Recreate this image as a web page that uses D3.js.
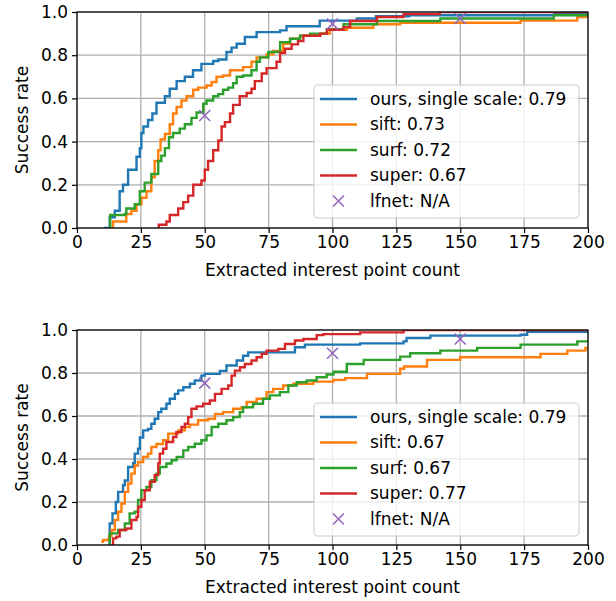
<!DOCTYPE html>
<html lang="en">
<head>
<meta charset="UTF-8">
<script src="https://cdnjs.cloudflare.com/ajax/libs/d3/7.8.5/d3.min.js"></script>
<style>
  body { margin: 0; background: #fff; }
  svg text { font-family: "DejaVu Sans", sans-serif; fill: #000; }
</style>
</head>
<body>
<div id="container"></div>
<script>
// ---------- data ----------
const xTicks = [0, 25, 50, 75, 100, 125, 150, 175, 200];
const yTicks = [0, 0.2, 0.4, 0.6, 0.8, 1.0];
const seriesNames = ["ours, single scale", "sift", "surf", "super"];
const colors = ["#1f77b4", "#ff7f0e", "#2ca02c", "#d62728"];
const lfnetColor = "#9467bd";

// top panel
const topScores = ["0.79", "0.73", "0.72", "0.67"];
const topOurs = [[10.6,0],[12.8,0.05],[14.8,0.08],[16.7,0.17],[18,0.2],[20,0.27],[23.3,0.33],[24.6,0.37],[25.2,0.44],[26,0.47],[27.8,0.5],[29.5,0.53],[31.1,0.58],[34.4,0.61],[36.3,0.645],[39,0.68],[42.2,0.7],[45.4,0.73],[48.7,0.76],[53.3,0.773],[55.3,0.78],[58.5,0.815],[60.5,0.835],[62.5,0.853],[65.7,0.884],[70.3,0.907],[79.5,0.915],[82,0.934],[93.8,0.934],[95,0.96],[109.5,0.97],[117,0.98],[130,0.985],[186.7,0.99]];
const topSift = [[12.8,0],[14.1,0.03],[19.3,0.065],[21.3,0.08],[23.3,0.11],[25.2,0.14],[27.2,0.17],[29.1,0.235],[30.4,0.31],[31.8,0.36],[32.7,0.41],[34.4,0.435],[36.3,0.48],[37.6,0.53],[39,0.56],[40.9,0.59],[42.9,0.61],[45.5,0.64],[47.4,0.65],[50.7,0.66],[52.7,0.676],[54.6,0.7],[57.2,0.706],[59.9,0.73],[65,0.745],[68.3,0.77],[70.3,0.79],[74.2,0.804],[76.8,0.82],[80.7,0.853],[83.4,0.876],[87.3,0.89],[95.1,0.9],[99,0.918],[105.6,0.927],[116,0.943],[126.5,0.95],[173.6,0.96],[195.8,0.977]];
const topSurf = [[12.8,0],[13,0.06],[18.7,0.065],[19.3,0.09],[22.6,0.11],[24.6,0.17],[26.5,0.21],[29.1,0.25],[31.8,0.31],[33,0.335],[34.4,0.37],[36,0.42],[37.6,0.44],[40.2,0.46],[42.2,0.48],[44.8,0.51],[46.8,0.535],[49.4,0.575],[50.7,0.59],[53.3,0.61],[55.3,0.62],[57.2,0.64],[59.2,0.65],[61.1,0.67],[62.5,0.7],[65,0.706],[68.3,0.73],[70.3,0.77],[71.6,0.79],[74.9,0.815],[79.5,0.86],[83.4,0.876],[87.3,0.89],[91.2,0.9],[97.8,0.92],[104.3,0.943],[117.4,0.958],[142.2,0.97],[186.6,0.985]];
const topSuper = [[31.8,0],[32,0.015],[35,0.03],[36.3,0.06],[39.6,0.09],[41.6,0.12],[43.5,0.15],[45.5,0.2],[48.7,0.22],[50,0.27],[51.3,0.31],[53.3,0.36],[55.3,0.405],[56.6,0.47],[57.9,0.49],[59.9,0.53],[61.1,0.57],[63.7,0.61],[66.4,0.625],[68.3,0.645],[69.6,0.68],[72.3,0.715],[74.2,0.74],[78.1,0.77],[79.5,0.81],[81.4,0.83],[84,0.85],[86.5,0.865],[88.6,0.89],[95.2,0.9],[97.8,0.918],[104.3,0.93],[106.9,0.958],[117.4,0.977],[127.8,0.99],[142,1.0]];
const topLfnet = [[50,0.521],[100,0.945],[150,0.97]];

// bottom panel
const botScores = ["0.79", "0.67", "0.67", "0.77"];
const botOurs = [[12.5,0],[12.8,0.1],[13.9,0.147],[15.2,0.2],[16.1,0.247],[18,0.278],[18.7,0.3],[20,0.363],[22,0.38],[22.6,0.425],[23.9,0.448],[24.6,0.5],[25.9,0.533],[27.8,0.54],[29.1,0.564],[30.4,0.587],[31.8,0.618],[33,0.634],[35,0.657],[36.3,0.68],[38.3,0.703],[39.6,0.719],[41.6,0.734],[44.2,0.75],[46.1,0.765],[48.7,0.788],[50,0.796],[55.9,0.81],[58.5,0.835],[62.5,0.858],[65,0.88],[67,0.896],[84,0.896],[85.3,0.92],[89.2,0.932],[110.8,0.938],[127.8,0.947],[129,0.963],[138.3,0.974],[173.6,0.978],[176.2,0.992]];
const botSift = [[9.5,0.015],[10.2,0.023],[12.5,0.04],[13.5,0.07],[14.8,0.116],[16.1,0.155],[17.4,0.193],[18.7,0.247],[20,0.286],[21.3,0.332],[22.6,0.37],[23.9,0.386],[25.9,0.41],[27.8,0.425],[29.1,0.456],[31.1,0.47],[33.7,0.487],[35.7,0.518],[39.6,0.533],[42.2,0.549],[44.2,0.56],[47.4,0.58],[51.3,0.587],[54,0.61],[57.2,0.618],[61.1,0.634],[64.4,0.641],[66.4,0.665],[70.3,0.68],[74.2,0.711],[76.8,0.726],[80.7,0.742],[84.7,0.75],[92.5,0.76],[100.4,0.768],[105,0.776],[113.5,0.796],[126.5,0.82],[128,0.83],[137,0.861],[150,0.873],[181.4,0.889],[191.9,0.904],[199,0.917]];
const botSurf = [[12.5,0],[12.8,0.054],[16.1,0.07],[18.7,0.1],[20.6,0.147],[22.6,0.155],[23.9,0.209],[25.2,0.255],[27.2,0.27],[29.1,0.301],[31.1,0.332],[32.4,0.363],[35,0.379],[37,0.394],[39,0.41],[41.6,0.44],[43.5,0.456],[46.1,0.471],[48.7,0.487],[50.7,0.51],[52.7,0.549],[55.3,0.564],[58.5,0.58],[61.1,0.595],[63.7,0.618],[65,0.641],[68.9,0.657],[72.8,0.68],[75.5,0.696],[79.4,0.711],[82.7,0.742],[86,0.757],[89.9,0.765],[93.8,0.78],[97.7,0.793],[100.4,0.806],[105.6,0.842],[112.2,0.861],[126.5,0.876],[130.4,0.892],[142.2,0.904],[156.6,0.917],[173.6,0.932],[195.8,0.947]];
const botSuper = [[13.9,0],[14.1,0.031],[15.4,0.039],[16.7,0.07],[19.3,0.077],[21.3,0.116],[23.3,0.131],[23.9,0.178],[25.2,0.209],[26.5,0.255],[28.5,0.294],[30.4,0.325],[31.8,0.379],[32.4,0.425],[33.7,0.448],[35,0.479],[37.6,0.502],[38.9,0.525],[40.9,0.549],[42.2,0.564],[43.5,0.595],[44.8,0.634],[46.8,0.645],[49.4,0.657],[52,0.672],[54,0.703],[56.6,0.726],[59.2,0.742],[60.5,0.788],[61.8,0.811],[63.8,0.827],[65.7,0.842],[68.3,0.858],[70.3,0.873],[72.3,0.889],[74.2,0.904],[78.8,0.912],[81.4,0.935],[85.3,0.951],[88.6,0.958],[93.8,0.976],[96.4,0.981],[110.8,0.989],[127.8,1.0]];
const botLfnet = [[50,0.753],[100,0.892],[150,0.958]];

// ---------- layout ----------
const W = 616, H = 601;
const panels = [
  { top: 12, bottom: 228, series: [topOurs, topSift, topSurf, topSuper], lfnet: topLfnet, scores: topScores },
  { top: 330, bottom: 545, series: [botOurs, botSift, botSurf, botSuper], lfnet: botLfnet, scores: botScores }
];
const left = 77, right = 588;
const fs = 17;

const svg = d3.select("#container").append("svg")
  .attr("width", W).attr("height", H);

const x = d3.scaleLinear().domain([0, 200]).range([left, right]);

panels.forEach((p, pi) => {
  const y = d3.scaleLinear().domain([0, 1]).range([p.bottom, p.top]);
  const g = svg.append("g");

  // grid
  g.append("g").selectAll("line").data(xTicks).enter().append("line")
    .attr("x1", d => x(d)).attr("x2", d => x(d))
    .attr("y1", p.top).attr("y2", p.bottom)
    .attr("stroke", "#b0b0b0").attr("stroke-width", 1.3);
  g.append("g").selectAll("line").data(yTicks).enter().append("line")
    .attr("y1", d => y(d)).attr("y2", d => y(d))
    .attr("x1", left).attr("x2", right)
    .attr("stroke", "#b0b0b0").attr("stroke-width", 1.3);

  // clip
  const clipId = "clip" + pi;
  svg.append("clipPath").attr("id", clipId).append("rect")
    .attr("x", left).attr("y", p.top).attr("width", right - left).attr("height", p.bottom - p.top);

  const line = d3.line().x(d => x(d[0])).y(d => y(d[1])).curve(d3.curveStepAfter);
  const lines = g.append("g").attr("clip-path", `url(#${clipId})`);
  p.series.forEach((s, i) => {
    const pts = s.concat([[200, s[s.length - 1][1]]]);
    lines.append("path").attr("d", line(pts))
      .attr("fill", "none").attr("stroke", colors[i]).attr("stroke-width", 2.4);
  });

  // lfnet markers
  const m = 5.5;
  lines.selectAll("path.mk").data(p.lfnet).enter().append("path")
    .attr("class", "mk")
    .attr("d", d => `M${x(d[0]) - m},${y(d[1]) - m}L${x(d[0]) + m},${y(d[1]) + m}M${x(d[0]) - m},${y(d[1]) + m}L${x(d[0]) + m},${y(d[1]) - m}`)
    .attr("stroke", lfnetColor).attr("stroke-width", 1.6).attr("fill", "none");

  // axes
  const xAxis = g.append("g").attr("transform", `translate(0,${p.bottom})`)
    .call(d3.axisBottom(x).tickValues(xTicks).tickSize(5).tickPadding(3).tickFormat(d3.format("d")));
  const yAxis = g.append("g").attr("transform", `translate(${left},0)`)
    .call(d3.axisLeft(y).tickValues(yTicks).tickSize(5).tickPadding(4).tickFormat(d3.format(".1f")));
  [xAxis, yAxis].forEach(a => {
    a.select(".domain").remove();
    a.selectAll("line").attr("stroke", "#000").attr("stroke-width", 1.2);
    a.selectAll("text").style("font-size", fs + "px").style("font-family", "DejaVu Sans");
  });

  // frame
  g.append("rect").attr("x", left).attr("y", p.top).attr("width", right - left).attr("height", p.bottom - p.top)
    .attr("fill", "none").attr("stroke", "#000").attr("stroke-width", 1.2);

  // labels
  g.append("text").attr("x", (left + right) / 2).attr("y", p.bottom + 48)
    .attr("text-anchor", "middle").style("font-size", fs + "px").text("Extracted interest point count");
  g.append("text").attr("transform", `translate(28,${(p.top + p.bottom) / 2}) rotate(-90)`)
    .attr("text-anchor", "middle").style("font-size", fs + "px").text("Success rate");

  // legend
  const lx = 314, ly = p.top + 73, lw = 265, lh = 133;
  const leg = g.append("g");
  leg.append("rect").attr("x", lx).attr("y", ly).attr("width", lw).attr("height", lh)
    .attr("rx", 4).attr("fill", "#fff").attr("fill-opacity", 0.8)
    .attr("stroke", "#cccccc").attr("stroke-width", 1.1);
  const labels = seriesNames.map((n, i) => `${n}: ${p.scores[i]}`).concat(["lfnet: N/A"]);
  labels.forEach((t, i) => {
    const ry = ly + 14 + i * 25.5;
    if (i < 4) {
      leg.append("line").attr("x1", lx + 6).attr("x2", lx + 43).attr("y1", ry).attr("y2", ry)
        .attr("stroke", colors[i]).attr("stroke-width", 2.4);
    } else {
      const cx = lx + 24.5;
      leg.append("path").attr("d", `M${cx - m},${ry - m}L${cx + m},${ry + m}M${cx - m},${ry + m}L${cx + m},${ry - m}`)
        .attr("stroke", lfnetColor).attr("stroke-width", 1.6);
    }
    leg.append("text").attr("x", lx + 56).attr("y", ry).attr("dy", "0.35em")
      .style("font-size", fs + "px").text(t);
  });
});
</script>
</body>
</html>
